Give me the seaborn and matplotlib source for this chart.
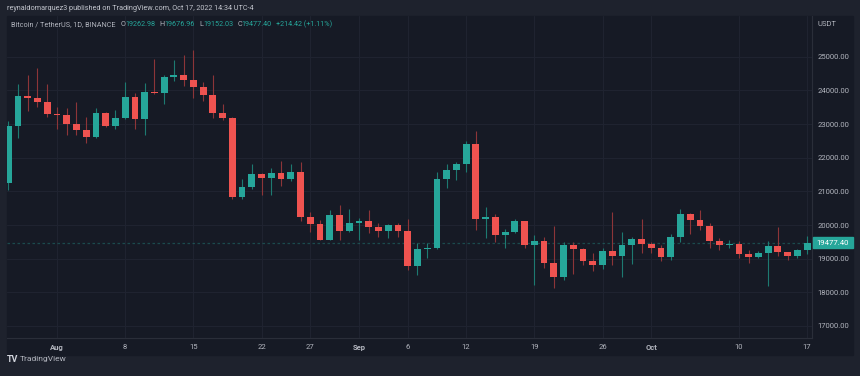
import numpy as np
import pandas as pd
import matplotlib.pyplot as plt
from matplotlib.patches import Rectangle
import seaborn as sns

# BTC/USDT daily candles, Jul 27 - Oct 17 2022
dates = pd.date_range('2022-07-27', '2022-10-17', freq='D')
opens = [21239, 22930, 23843, 23777, 23644, 23293, 23268, 22988, 22818, 22622,
         23313, 22954, 23175, 23810, 23150, 23954, 23935, 24403, 24442, 24305,
         24095, 23855, 23342, 23190, 20834, 21140, 21516, 21400, 21530, 21369,
         21560, 20241, 20037, 19555, 20285, 19811, 20050, 20131, 19951, 19832,
         19986, 19812, 18790, 19290, 19320, 21361, 21648, 21826, 22395, 20173,
         20227, 19701, 19803, 20113, 19416, 19537, 18875, 18461, 19401, 19289,
         18920, 18807, 19227, 19079, 19412, 19591, 19422, 19310, 19057, 19629,
         20337, 20158, 19960, 19530, 19417, 19440, 19131, 19060, 19155, 19382,
         19185, 19067, 19263]
highs = [23100, 24196, 24442, 24668, 24200, 23500, 23470, 23650, 23220, 23470,
         23354, 23420, 24245, 23920, 24226, 24918, 24456, 24888, 25047, 25211,
         24247, 24446, 23600, 23222, 21370, 21800, 21546, 21700, 21900, 21820,
         21870, 20400, 20160, 20432, 20580, 20490, 20200, 20440, 20055, 20020,
         20060, 20180, 19463, 19460, 21580, 21800, 21860, 22488, 22800, 20540,
         20330, 19890, 20190, 20117, 19690, 19634, 19956, 19500, 19500, 19316,
         19180, 19310, 20385, 19790, 19645, 20185, 19484, 19395, 19719, 20475,
         20365, 20456, 20055, 19627, 19558, 19525, 19268, 19215, 19513, 19951,
         19212, 19300, 19677]
lows = [21040, 22580, 23400, 23512, 23220, 22850, 22660, 22680, 22430, 22590,
        22909, 22850, 23150, 22860, 22664, 23900, 23580, 24292, 24140, 23773,
        23671, 23180, 23110, 20783, 20761, 21070, 20890, 20890, 21145, 21310,
        20110, 19800, 19540, 19550, 19540, 19800, 19560, 19750, 19650, 19600,
        19640, 18650, 18510, 19010, 19290, 21110, 21350, 21560, 19860, 19617,
        19497, 19320, 19750, 19320, 18232, 18711, 18125, 18356, 18531, 18805,
        18627, 18680, 18816, 18470, 18843, 19155, 19160, 18920, 18959, 19490,
        19730, 19853, 19320, 19256, 19320, 19020, 18860, 19015, 18190, 19070,
        18975, 19030, 19152]
closes = [22930, 23843, 23777, 23644, 23293, 23268, 22988, 22818, 22622, 23313,
          22954, 23175, 23810, 23150, 23954, 23935, 24403, 24442, 24305, 24095,
          23855, 23342, 23190, 20834, 21140, 21516, 21400, 21530, 21369, 21560,
          20241, 20037, 19555, 20285, 19811, 20050, 20131, 19951, 19832, 19986,
          19812, 18790, 19290, 19320, 21361, 21648, 21826, 22395, 20173, 20227,
          19701, 19803, 20113, 19416, 19537, 18875, 18461, 19401, 19289, 18920,
          18807, 19227, 19079, 19412, 19591, 19422, 19310, 19057, 19629, 20337,
          20158, 19960, 19530, 19417, 19440, 19131, 19060, 19155, 19382, 19185,
          19067, 19268, 19477.40]

price_levels = [17000, 18000, 19000, 20000, 21000, 22000, 23000, 24000, 25000]
tick_dates = ['2022-08-01', '2022-08-08', '2022-08-15', '2022-08-22', '2022-08-27',
              '2022-09-01', '2022-09-06', '2022-09-12', '2022-09-19', '2022-09-26',
              '2022-10-01', '2022-10-10', '2022-10-17']
tick_labels = ['Aug', '8', '15', '22', '27', 'Sep', '6', '12', '19', '26', 'Oct', '10', '17']
last_price = 19477.40

df = pd.DataFrame({'date': dates, 'open': opens, 'high': highs,
                   'low': lows, 'close': closes})
df['x'] = np.arange(len(df))
df['up'] = df['close'] >= df['open']

UP, DOWN = '#26a69a', '#ef5350'
UP_WICK, DOWN_WICK = '#1d7a71', '#8d3538'
BG, PANEL, GRID = '#1e222d', '#161a25', '#1f2330'
TXT = '#b2b5be'

sns.set_theme(style='dark')
plt.rcParams['font.family'] = ['Roboto', 'DejaVu Sans']

fig = plt.figure(figsize=(8.6, 3.76), dpi=100)
fig.patch.set_facecolor(BG)
W, H = 860, 376
fig.patches.append(Rectangle((7 / W, 1 - 355 / H), 846 / W, 339 / H,
                             transform=fig.transFigure, color=PANEL, zorder=-5))

ax = fig.add_axes([7 / W, 1 - 338 / H, 805 / W, 322 / H])
ax.set_facecolor(PANEL)

# wicks + bodies
ax.vlines(df['x'], df['low'], df['high'],
          colors=np.where(df['up'], UP_WICK, DOWN_WICK), lw=0.8, zorder=2)
body_bot = np.minimum(df['open'], df['close'])
body_h = np.maximum(np.abs(df['close'] - df['open']), 25)
ax.bar(df['x'], body_h, bottom=body_bot, width=0.7,
       color=np.where(df['up'], UP, DOWN), linewidth=0, zorder=3)

ax.axhline(last_price, color=UP, alpha=0.35, lw=0.9, ls=(0, (2, 2)), zorder=1)

ax.set_ylim(16643, 26209)
ax.set_xlim(-0.13, 82.5)

tick_x = [df.index[df['date'] == pd.Timestamp(d)][0] for d in tick_dates]
ax.set_xticks(tick_x)
ax.set_xticklabels(tick_labels, fontsize=5.5, color=TXT)
for lab in ax.get_xticklabels():
    if lab.get_text() in ('Aug', 'Sep', 'Oct'):
        lab.set_fontweight('bold')
ax.yaxis.tick_right()
ax.set_yticks(price_levels)
ax.set_yticklabels([f'{p:.2f}' for p in price_levels], fontsize=5.5, color=TXT)
ax.tick_params(axis='both', length=0)
ax.tick_params(axis='x', pad=4.2)
ax.tick_params(axis='y', pad=4.2)
ax.grid(True, color=GRID, lw=0.8)
for s in ['top', 'left']:
    ax.spines[s].set_visible(False)
for s in ['right', 'bottom']:
    ax.spines[s].set_color('#2a2e39')
    ax.spines[s].set_linewidth(0.8)

# last-price tag on the price scale
fig.patches.append(Rectangle((813 / W, 1 - 248 / H), 40 / W, 11 / H,
                             transform=fig.transFigure, color=UP, zorder=5))
fig.text(833 / W, 1 - 242.5 / H, f'{last_price:.2f}', color='white', fontsize=5.6,
         ha='center', va='center', zorder=6)
fig.text(818 / W, 1 - 24 / H, 'USDT', color=TXT, fontsize=5.5, va='center')

# header
fig.text(7 / W, 1 - 9 / H, 'reynaldomarquez3 published on TradingView.com, Oct 17, 2022 14:34 UTC-4',
         color='#c3c6ce', fontsize=5.2, va='center')

# OHLC legend
pieces = [('Bitcoin / TetherUS, 1D, BINANCE', TXT, 0), ('O', TXT, 3.5), ('19262.98', UP, 0),
          ('H', TXT, 3), ('19676.96', UP, 0), ('L', TXT, 3), ('19152.03', UP, 0),
          ('C', TXT, 3), ('19477.40', UP, 0), ('+214.42 (+1.11%)', UP, 3)]
prev = fig.text(11 / W, 1 - 25 / H, pieces[0][0], color=pieces[0][1], fontsize=5.2, va='center')
for txt, col, gap in pieces[1:]:
    prev = ax.annotate(txt, xy=(1, 0), xycoords=prev, xytext=(gap, 0),
                       textcoords='offset points', color=col, fontsize=5.2, va='bottom')

# footer logo
fig.text(7 / W, 1 - 359 / H, 'TV', color='#d1d4dc', fontsize=6.5, fontweight='bold', va='center')
fig.text(20 / W, 1 - 359 / H, 'TradingView', color='#b2b5be', fontsize=6, va='center')

fig.savefig('out.png', dpi=100, facecolor=BG)
